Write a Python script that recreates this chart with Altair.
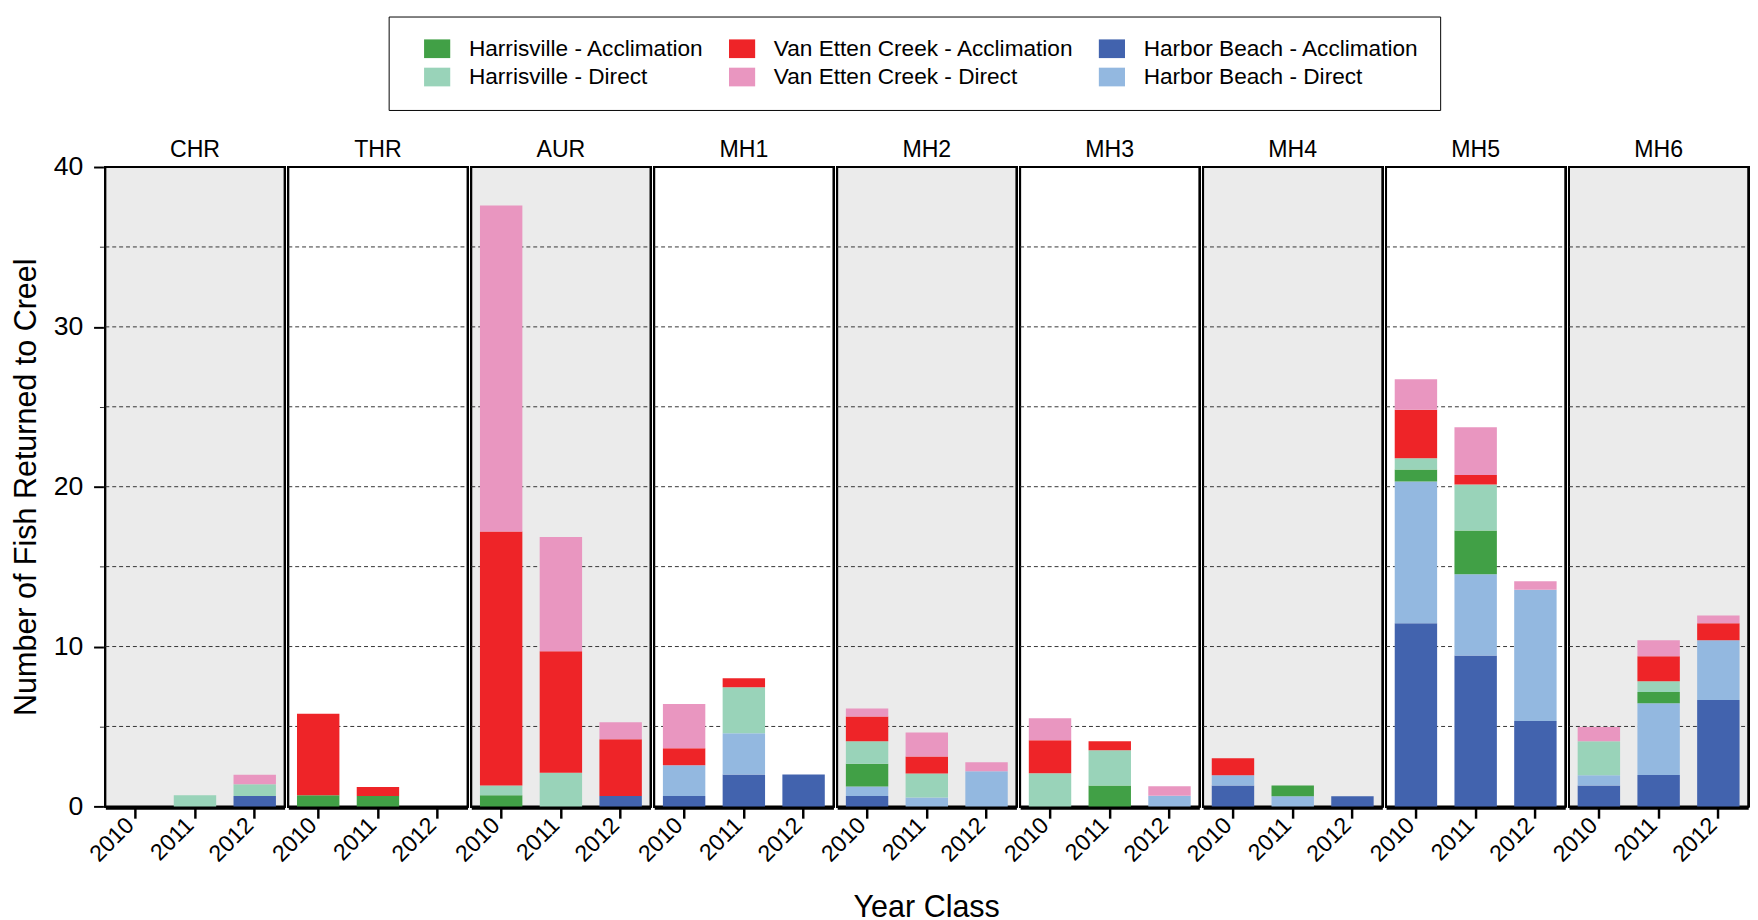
import altair as alt
import pandas as pd

# ---------------- data ----------------
sites = ["CHR", "THR", "AUR", "MH1", "MH2", "MH3", "MH4", "MH5", "MH6"]
years = ["2010", "2011", "2012"]

# legend order (Vega fills the 2-row legend column by column)
series_names = [
    "Harrisville - Acclimation", "Harrisville - Direct",
    "Van Etten Creek - Acclimation", "Van Etten Creek - Direct",
    "Harbor Beach - Acclimation", "Harbor Beach - Direct",
]
series_colors = ["#41A046", "#99D3B9", "#EE2428", "#E996C0", "#4263AE", "#93B8E0"]
# stacking order, bottom first
stack_order = [
    "Harbor Beach - Acclimation", "Harbor Beach - Direct",
    "Harrisville - Acclimation", "Harrisville - Direct",
    "Van Etten Creek - Acclimation", "Van Etten Creek - Direct",
]

# values per site (CHR..MH6), each with 2010, 2011, 2012
harbor_beach_accl = [0, 0, 0.65,  0, 0, 0,  0, 0, 0.65,  0.65, 2.0, 2.0,  0.65, 0, 0,
                     0, 0, 0,  1.31, 0, 0.64,  11.45, 9.44, 5.34,  1.31, 1.96, 6.65]
harbor_beach_direct = [0, 0, 0,  0, 0, 0,  0, 0, 0,  1.93, 2.57, 0,  0.6, 0.56, 2.2,
                       0, 0, 0.67,  0.64, 0.64, 0,  8.88, 5.08, 8.21,  0.64, 4.5, 3.74]
harrisville_accl = [0, 0, 0,  0.7, 0.65, 0,  0.7, 0, 0,  0, 0, 0,  1.42, 0, 0,
                    0, 1.31, 0,  0, 0.67, 0,  0.75, 2.74, 0,  0, 0.7, 0]
harrisville_direct = [0, 0.7, 0.73,  0, 0, 0,  0.6, 2.1, 0,  0, 2.88, 0,  1.4, 1.5, 0,
                      2.07, 2.2, 0,  0, 0, 0,  0.7, 2.88, 0,  2.12, 0.67, 0]
van_etten_accl = [0, 0, 0,  5.1, 0.56, 0,  15.9, 7.6, 3.55,  1.06, 0.56, 0,  1.56, 1.06, 0,
                  2.07, 0.56, 0,  1.06, 0, 0,  3.04, 0.59, 0,  0, 1.56, 1.06]
van_etten_direct = [0, 0, 0.6,  0, 0, 0,  20.4, 7.15, 1.06,  2.77, 0, 0,  0.5, 1.5, 0.56,
                    1.37, 0, 0.59,  0, 0, 0,  1.9, 2.99, 0.53,  0.89, 1.0, 0.5]

y_ticks = [0, 5, 10, 15, 20, 25, 30, 35, 40]

series_values = {
    "Harbor Beach - Acclimation": harbor_beach_accl,
    "Harbor Beach - Direct": harbor_beach_direct,
    "Harrisville - Acclimation": harrisville_accl,
    "Harrisville - Direct": harrisville_direct,
    "Van Etten Creek - Acclimation": van_etten_accl,
    "Van Etten Creek - Direct": van_etten_direct,
}

rows = []
for si, site in enumerate(sites):
    for yi, yr in enumerate(years):
        for name, vals in series_values.items():
            rows.append({
                "site": site, "year": yr, "series": name,
                "value": vals[si * 3 + yi],
                "stack": stack_order.index(name),
                "shade": 1 if si % 2 == 0 else 0,
            })
df = pd.DataFrame(rows)

# ---------------- chart ----------------
W, H = 182.2, 650
FONT = "Liberation Sans"

base = alt.Chart(df)

background = base.mark_rect(stroke="black", strokeWidth=2).encode(
    x=alt.value(0), x2=alt.value(W), y=alt.value(0), y2=alt.value(H),
    fill=alt.condition("datum.shade == 1", alt.value("#EBEBEB"), alt.value("#FFFFFF")),
)

grid = (
    base.transform_aggregate(n="count()", groupby=["site"])
    .transform_calculate(gy="sequence(5, 40, 5)")
    .transform_flatten(["gy"])
    .mark_rule(color="#333333", strokeDash=[4, 3], strokeWidth=1)
    .encode(y=alt.Y("gy:Q"), x=alt.value(0), x2=alt.value(W))
)

minor = "datum.value % 10 != 0"
bars = base.transform_filter("datum.value > 0").mark_bar(strokeWidth=0).encode(
    x=alt.X("year:N", scale=alt.Scale(domain=years, paddingInner=0.29, paddingOuter=0.145),
            axis=alt.Axis(title=None, labelAngle=-45, labelAlign="right", labelBaseline="alphabetic",
                          labelFontSize=23.5, labelFont=FONT,
                          labelColor="black", tickSize=10, tickWidth=2.5, tickColor="black",
                          domainColor="black", domainWidth=2, labelPadding=8, zindex=1)),
    y=alt.Y("value:Q", stack="zero",
            scale=alt.Scale(domain=[0, 40], nice=False),
            axis=alt.Axis(title="Number of Fish Returned to Creel", values=y_ticks,
                          labelExpr="datum.value % 10 == 0 ? datum.label : ''",
                          labelFontSize=27, labelFont=FONT, labelColor="black",
                          labelPadding=11, grid=False, domain=False,
                          tickSize={"condition": {"test": minor, "value": 7}, "value": 10},
                          tickWidth={"condition": {"test": minor, "value": 1}, "value": 2},
                          tickColor={"condition": {"test": minor, "value": "#333333"}, "value": "black"},
                          tickDash={"condition": {"test": minor, "value": [4, 3]}, "value": []},
                          titleFontSize=31, titleFont=FONT, titleFontWeight="normal",
                          titleColor="black", titlePadding=11)),
    color=alt.Color("series:N", scale=alt.Scale(domain=series_names, range=series_colors),
                    legend=alt.Legend(title=None, orient="none", legendX=288, legendY=-153,
                                      columns=3, columnPadding=10, rowPadding=5,
                                      symbolType="M0.368,-1H3.168V1H0.368Z", symbolSize=361,
                                      symbolStrokeWidth=0, labelOffset=37.6, labelLimit=0,
                                      labelFontSize=23, labelFont=FONT, labelColor="black",
                                      padding=21, strokeColor="black")),
    order=alt.Order("stack:Q", sort="ascending"),
)

chart = (
    alt.layer(background, grid, bars)
    .properties(width=W, height=H)
    .facet(
        column=alt.Column("site:N", sort=sites,
                          header=alt.Header(title="Year Class", titleOrient="bottom",
                                            labelOrient="top", labelFontSize=23.5,
                                            labelFont=FONT, labelColor="black", labelPadding=4,
                                            titleFontSize=31, titleFont=FONT,
                                            titleFontWeight="normal", titleColor="black",
                                            titlePadding=17)),
        spacing=0,
    )
    .configure_view(stroke=None)
    .configure_legend(strokeWidth=1.5)
    .configure(padding={"left": 2, "top": 0, "right": 0, "bottom": 0})
)

chart.save("out.html", embed_options={"renderer": "svg", "actions": False})
